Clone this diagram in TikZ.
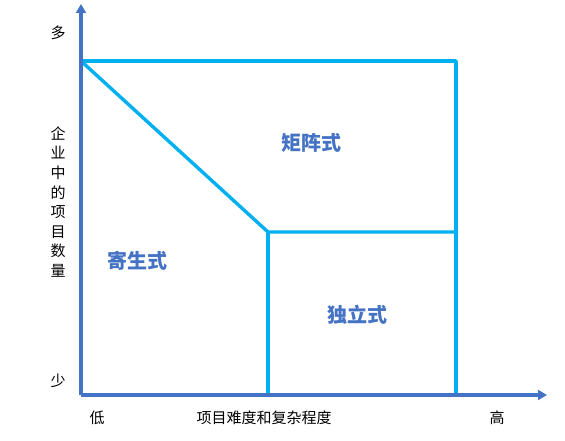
\documentclass[tikz,border=0pt]{standalone}
\usepackage{fontspec}
\newfontfamily\cjk{Noto Sans CJK SC}
\usetikzlibrary{arrows.meta}
\definecolor{axisblue}{HTML}{4472C4}
\definecolor{lineblue}{HTML}{00B0F0}
\begin{document}
\begin{tikzpicture}[x=1pt,y=-1pt,
  axis/.style={draw=axisblue,line width=3.8pt,-{Triangle[width=10pt,length=9pt]}},
  region/.style={draw=lineblue,line width=3.4pt,line cap=round,line join=round},
  lbl/.style={font=\cjk\fontsize{15}{15}\selectfont,text=black,inner sep=0pt},
  zone/.style={font=\cjk\bfseries\fontsize{20}{20}\selectfont,text=axisblue,inner sep=0pt}]
\useasboundingbox (0,0) rectangle (565,441);
\coordinate (O) at (81,395);
\coordinate (ytip) at (81,4);
\coordinate (xtip) at (547,395);
\coordinate (TL) at (81,61);
\coordinate (TR) at (456,61);
\coordinate (BR) at (456,395);
\coordinate (M) at (268,232);
\coordinate (MR) at (456,232);
\coordinate (MB) at (268,395);
\draw[region] (TL) -- (TR) -- (BR);
\draw[region] (TL) -- (M) -- (MR);
\draw[region] (M) -- (MB);
\draw[axis] (O) -- (ytip);
\draw[axis] (O) -- (xtip);
\node[lbl] (many) at (58,33) {多};
\node[lbl] (few) at (58,381) {少};
\node[lbl,align=center,font=\cjk\fontsize{15}{19.6}\selectfont] (ylab) at (58,202) {企\\业\\中\\的\\项\\目\\数\\量};
\node[lbl] (low) at (97,418) {低};
\node[lbl] (xlab) at (264,418) {项目难度和复杂程度};
\node[lbl] (high) at (497,418) {高};
\node[zone] (matrix) at (311,143) {矩阵式};
\node[zone] (para) at (137,261) {寄生式};
\node[zone] (indep) at (357,315) {独立式};
\end{tikzpicture}
\end{document}
